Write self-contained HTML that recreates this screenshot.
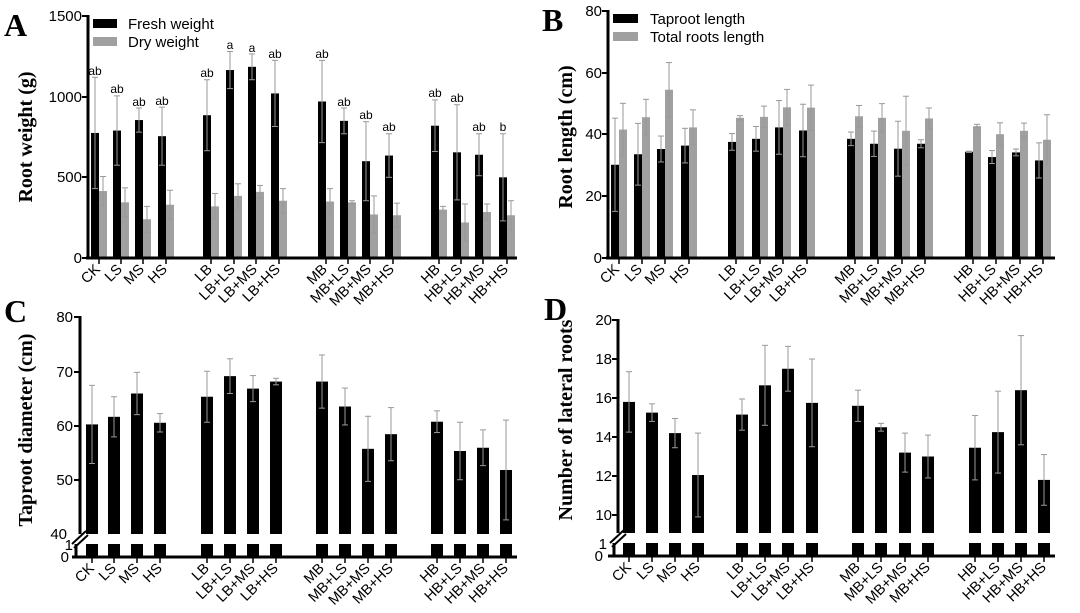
<!DOCTYPE html>
<html><head><meta charset="utf-8"><style>
body{margin:0;background:#fff}
svg{display:block}
.t{font-family:"Liberation Sans",Arial,sans-serif;font-size:15px;fill:#000}
.x{font-family:"Liberation Sans",Arial,sans-serif;font-size:14.5px;fill:#000}
.l{font-family:"Liberation Sans",Arial,sans-serif;font-size:12px;fill:#000}
.ti{font-family:"Liberation Serif","Times New Roman",serif;font-weight:bold;font-size:20px;fill:#000}
.pl{font-family:"Liberation Serif","Times New Roman",serif;font-weight:bold;font-size:32px;fill:#000}
</style></head><body>
<svg id="s" width="1080" height="613" viewBox="0 0 1080 613" xmlns="http://www.w3.org/2000/svg">
<g id="g"></g>
<text class="pl" x="4" y="36">A</text>
<text class="pl" x="542" y="31">B</text>
<text class="pl" x="4" y="322">C</text>
<text class="pl" x="544" y="320">D</text>
<text class="ti" transform="translate(32,137) rotate(-90)" text-anchor="middle">Root weight (g)</text>
<text class="ti" transform="translate(572,137) rotate(-90)" text-anchor="middle">Root length (cm)</text>
<text class="ti" transform="translate(32,430) rotate(-90)" text-anchor="middle">Taproot diameter (cm)</text>
<text class="ti" transform="translate(572,420) rotate(-90)" text-anchor="middle">Number of lateral roots</text>
<g class="t" text-anchor="end">
<text x="82" y="21">1500</text><text x="82" y="102">1000</text><text x="82" y="182">500</text><text x="82" y="263">0</text>
<text x="602" y="16">80</text><text x="602" y="78">60</text><text x="602" y="139">40</text><text x="602" y="201">20</text><text x="602" y="263">0</text>
<text x="73" y="322">80</text><text x="73" y="377">70</text><text x="73" y="431">60</text><text x="73" y="485">50</text><text x="67" y="539">40</text><text x="73" y="550">1</text><text x="69" y="562">0</text>
<text x="612" y="325">20</text><text x="612" y="364">18</text><text x="612" y="403">16</text><text x="612" y="442">14</text><text x="612" y="481">12</text><text x="612" y="520">10</text><text x="607" y="549">1</text><text x="603" y="561">0</text>
</g>
<rect x="93" y="19" width="24" height="9" fill="#000"/><text class="t" x="128" y="29">Fresh weight</text>
<rect x="93" y="37" width="24" height="9" fill="#a0a0a0"/><text class="t" x="128" y="47">Dry weight</text>
<rect x="613" y="14" width="25" height="9" fill="#000"/><text class="t" x="650" y="24">Taproot length</text>
<rect x="613" y="32" width="25" height="9" fill="#a0a0a0"/><text class="t" x="650" y="42">Total roots length</text>
<g class="l" text-anchor="middle">
<text x="95" y="75">ab</text><text x="117" y="93">ab</text><text x="139" y="106">ab</text><text x="162" y="105">ab</text>
<text x="207" y="77">ab</text><text x="230" y="49">a</text><text x="252" y="52">a</text><text x="275" y="58">ab</text>
<text x="322" y="58">ab</text><text x="344" y="106">ab</text><text x="366" y="119">ab</text><text x="389" y="131">ab</text>
<text x="435" y="97">ab</text><text x="457" y="102">ab</text><text x="479" y="131">ab</text><text x="503" y="131">b</text>
</g>
<g class="x" text-anchor="end">
<text transform="translate(101,270) rotate(-45)">CK</text><text transform="translate(123,270) rotate(-45)">LS</text><text transform="translate(145,270) rotate(-45)">MS</text><text transform="translate(168,270) rotate(-45)">HS</text>
<text transform="translate(213,270) rotate(-45)">LB</text><text transform="translate(236,270) rotate(-45)">LB+LS</text><text transform="translate(258,270) rotate(-45)">LB+MS</text><text transform="translate(281,270) rotate(-45)">LB+HS</text>
<text transform="translate(328,270) rotate(-45)">MB</text><text transform="translate(350,270) rotate(-45)">MB+LS</text><text transform="translate(372,270) rotate(-45)">MB+MS</text><text transform="translate(395,270) rotate(-45)">MB+HS</text>
<text transform="translate(441,270) rotate(-45)">HB</text><text transform="translate(463,270) rotate(-45)">HB+LS</text><text transform="translate(485,270) rotate(-45)">HB+MS</text><text transform="translate(509,270) rotate(-45)">HB+HS</text>

<text transform="translate(620,270) rotate(-45)">CK</text><text transform="translate(643,270) rotate(-45)">LS</text><text transform="translate(666,270) rotate(-45)">MS</text><text transform="translate(690,270) rotate(-45)">HS</text>
<text transform="translate(737,270) rotate(-45)">LB</text><text transform="translate(761,270) rotate(-45)">LB+LS</text><text transform="translate(784,270) rotate(-45)">LB+MS</text><text transform="translate(808,270) rotate(-45)">LB+HS</text>
<text transform="translate(856,270) rotate(-45)">MB</text><text transform="translate(879,270) rotate(-45)">MB+LS</text><text transform="translate(903,270) rotate(-45)">MB+MS</text><text transform="translate(926,270) rotate(-45)">MB+HS</text>
<text transform="translate(974,270) rotate(-45)">HB</text><text transform="translate(997,270) rotate(-45)">HB+LS</text><text transform="translate(1021,270) rotate(-45)">HB+MS</text><text transform="translate(1044,270) rotate(-45)">HB+HS</text>

<text transform="translate(95,569) rotate(-45)">CK</text><text transform="translate(117,569) rotate(-45)">LS</text><text transform="translate(140,569) rotate(-45)">MS</text><text transform="translate(163,569) rotate(-45)">HS</text>
<text transform="translate(210,569) rotate(-45)">LB</text><text transform="translate(233,569) rotate(-45)">LB+LS</text><text transform="translate(256,569) rotate(-45)">LB+MS</text><text transform="translate(279,569) rotate(-45)">LB+HS</text>
<text transform="translate(325,569) rotate(-45)">MB</text><text transform="translate(348,569) rotate(-45)">MB+LS</text><text transform="translate(371,569) rotate(-45)">MB+MS</text><text transform="translate(394,569) rotate(-45)">MB+HS</text>
<text transform="translate(440,569) rotate(-45)">HB</text><text transform="translate(463,569) rotate(-45)">HB+LS</text><text transform="translate(486,569) rotate(-45)">HB+MS</text><text transform="translate(509,569) rotate(-45)">HB+HS</text>

<text transform="translate(632,568) rotate(-45)">CK</text><text transform="translate(655,568) rotate(-45)">LS</text><text transform="translate(678,568) rotate(-45)">MS</text><text transform="translate(701,568) rotate(-45)">HS</text>
<text transform="translate(745,568) rotate(-45)">LB</text><text transform="translate(768,568) rotate(-45)">LB+LS</text><text transform="translate(791,568) rotate(-45)">LB+MS</text><text transform="translate(815,568) rotate(-45)">LB+HS</text>
<text transform="translate(861,568) rotate(-45)">MB</text><text transform="translate(884,568) rotate(-45)">MB+LS</text><text transform="translate(908,568) rotate(-45)">MB+MS</text><text transform="translate(931,568) rotate(-45)">MB+HS</text>
<text transform="translate(978,568) rotate(-45)">HB</text><text transform="translate(1001,568) rotate(-45)">HB+LS</text><text transform="translate(1024,568) rotate(-45)">HB+MS</text><text transform="translate(1047,568) rotate(-45)">HB+HS</text>
</g>
</svg>
<script>
var g=document.getElementById('g'),NS='http://www.w3.org/2000/svg';
function el(n,a){var e=document.createElementNS(NS,n);for(var k in a)e.setAttribute(k,a[k]);g.appendChild(e);return e;}
function line(x1,y1,x2,y2,c,w){el('line',{x1:x1,y1:y1,x2:x2,y2:y2,stroke:c,'stroke-width':w});}
function bar(cx,w,ytop,ybot,col,eTop,eBot){
 el('rect',{x:cx-w/2,y:Math.min(ytop,ybot),width:w,height:Math.abs(ybot-ytop),fill:col});
 if(eTop!=null){line(cx,eTop,cx,eBot,'#999',1);line(cx-3,eTop,cx+3,eTop,'#999',1);line(cx-3,eBot,cx+3,eBot,'#999',1);}
}
(function(){
 var xs=[95,117,139,162,207,230,252,275,322,344,366,389,435,457,479,503];
 var F=[[775,1120],[790,1005],[855,930],[755,935],[885,1105],[1165,1280],[1185,1265],[1020,1225],[970,1225],[850,930],[600,845],[635,770],[820,980],[655,950],[640,770],[500,770]];
 var D=[[415,505],[345,435],[240,320],[330,420],[320,400],[385,460],[410,450],[355,430],[350,430],[345,355],[270,385],[265,340],[300,320],[220,335],[285,335],[265,355]];
 var Y=function(v){return 258-v*242/1500;};
 xs.forEach(function(x,i){
  var f=F[i],d=D[i];
  bar(x,8,Y(f[0]),258,'#000');
  bar(x+8,8,Y(d[0]),258,'#a0a0a0');
  var e=f[1]-f[0];bar(x,0,0,0,'#000',Y(f[1]),Y(f[0]-e));
  e=d[1]-d[0];bar(x+8,0,0,0,'#000',Y(d[1]),Y(d[0]-e));
  line(x+4,258,x+4,264,'#000',1.5);
 });
 line(88,15,88,259.5,'#000',3);line(86,258,517,258,'#000',3);
 [16,97,177,258].forEach(function(y){line(82,y,88,y,'#000',2);});
})();
(function(){
 var xs=[615,638,661,685,732,756,779,803,851,874,898,921,969,992,1016,1039];
 var T=[[30.2,45.3],[33.6,43.6],[35.3,39.5],[36.4,42],[37.6,40.3],[38.6,42.6],[42.3,51],[41.3,49.8],[38.6,40.8],[37,41.1],[35.4,44.3],[37,38.3],[34.4,34.6],[32.7,34.8],[34.2,35.3],[31.6,37.3]];
 var R=[[41.6,50.1],[45.6,51.4],[54.5,63.3],[42.3,48],[45.4,46.1],[45.7,49.2],[48.8,54.6],[48.7,56],[45.9,49.4],[45.4,50],[41.2,52.4],[45.2,48.6],[42.7,43.3],[40.1,43.8],[41.2,43.7],[38.3,46.4]];
 var Y=function(v){return 258-v*247/80;};
 xs.forEach(function(x,i){
  var t=T[i],r=R[i];
  bar(x,8,Y(t[0]),258,'#000');bar(x+8,8,Y(r[0]),258,'#a0a0a0');
  var e=t[1]-t[0];bar(x,0,0,0,'#000',Y(t[1]),Y(t[0]-e));
  e=r[1]-r[0];bar(x+8,0,0,0,'#000',Y(r[1]),Y(r[0]-e));
  line(x+4,258,x+4,264,'#000',1.5);
 });
 line(608,10,608,259.5,'#000',3);line(606,258,1055,258,'#000',3);
 [11,73,134,196,258].forEach(function(y){line(602,y,608,y,'#000',2);});
})();
(function(){
 var xs=[92,114,137,160,207,230,253,276,322,345,368,391,437,460,483,506];
 var V=[[60.2,67.4],[61.6,65.3],[65.9,69.8],[60.5,62.2],[65.3,70],[69.1,72.3],[66.8,69.2],[68.1,68.7],[68.1,73],[63.5,66.9],[55.7,61.7],[58.4,63.3],[60.7,62.7],[55.3,60.6],[55.9,59.2],[51.8,61]];
 var Y=function(v){return 534-(v-40)*217/40;};
 xs.forEach(function(x,i){
  var v=V[i];bar(x,12,Y(v[0]),534,'#000');bar(x,12,544,557,'#000');
  var e=v[1]-v[0];bar(x,0,0,0,'#000',Y(v[1]),Y(v[0]-e));
  line(x,557,x,563,'#000',1.5);
 });
 line(80,316,80,534,'#000',3);line(76,544,76,558,'#000',3);
 line(72,544,86,531,'#000',2);line(74,548,88,535,'#000',2);
 line(72,557,517,557,'#000',3);
 [317,372,426,480].forEach(function(y){line(74,y,80,y,'#000',2);});
})();
(function(){
 var xs=[629,652,675,698,742,765,788,812,858,881,905,928,975,998,1021,1044];
 var V=[[15.8,17.35],[15.25,15.7],[14.2,14.95],[12.05,14.2],[15.15,15.95],[16.65,18.7],[17.5,18.65],[15.75,18],[15.6,16.4],[14.5,14.7],[13.2,14.2],[13,14.1],[13.45,15.1],[14.25,16.35],[16.4,19.2],[11.8,13.1]];
 var Y=function(v){return 515-(v-10)*19.5;};
 xs.forEach(function(x,i){
  var v=V[i];bar(x,12,Y(v[0]),533,'#000');bar(x,12,543,556,'#000');
  var e=v[1]-v[0];bar(x,0,0,0,'#000',Y(v[1]),Y(v[0]-e));
  line(x,556,x,562,'#000',1.5);
 });
 line(618,319,618,533,'#000',3);line(614,543,614,557,'#000',3);
 line(610,543,624,530,'#000',2);line(612,547,626,534,'#000',2);
 line(608,556,1055,556,'#000',3);
 [320,359,398,437,476,515].forEach(function(y){line(612,y,618,y,'#000',2);});
})();
</script>
</body></html>
